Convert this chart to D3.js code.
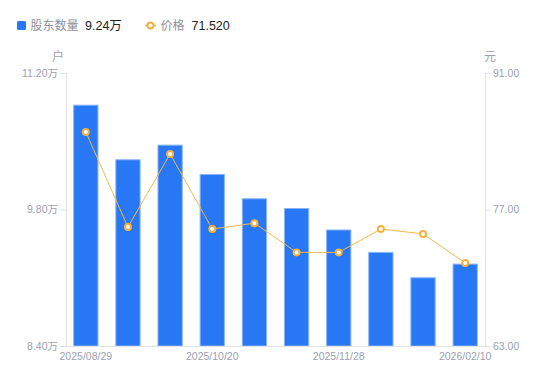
<!DOCTYPE html>
<html><head><meta charset="utf-8">
<script src="https://cdn.jsdelivr.net/npm/d3@7/dist/d3.min.js"></script>
<style>body{margin:0;background:#fff;}svg{display:block;font-family:"Liberation Sans","Noto Sans CJK SC",sans-serif;}</style>
</head><body>
<svg id="c" width="550" height="381"></svg>
<script>
const dates = ["2025/08/29","2025/09/15","2025/09/30","2025/10/20","2025/10/31","2025/11/14","2025/11/28","2025/12/19","2026/01/20","2026/02/10"];
const holders = [10.87, 10.31, 10.46, 10.16, 9.91, 9.81, 9.59, 9.36, 9.10, 9.24];
const prices = [84.95, 75.2, 82.7, 75.0, 75.6, 72.6, 72.6, 75.0, 74.5, 71.52];
const leftTicks = [8.40, 9.80, 11.20];
const rightTicks = [63.00, 77.00, 91.00];
const xLabelIdx = [0, 3, 6, 9];

const svg = d3.select("#c");
const L = 66, R = 485, T = 73, B = 346;
const x = d3.scaleBand().domain(dates).range([L, R]).paddingInner(0.4).paddingOuter(0.17);
const yL = d3.scaleLinear().domain([8.40, 11.20]).range([B, T]);
const yR = d3.scaleLinear().domain([63, 91]).range([B, T]);
const gray = "#9c9fb0", axisC = "#e3e3e6";
const cjk = "'Noto Sans CJK SC', sans-serif";

// bars
svg.append("g").selectAll("rect").data(holders).join("rect")
  .attr("x", (d,i)=>x(dates[i])+0.5).attr("width", x.bandwidth()-1)
  .attr("y", d=>yL(d)).attr("height", d=>B-yL(d))
  .attr("fill", "#2878f5").attr("stroke", "#8ab5f8").attr("stroke-width", 1);

// axes
const gl = svg.append("g").attr("transform", `translate(${L},0)`)
  .call(d3.axisLeft(yL).tickValues(leftTicks).tickSize(6).tickPadding(2).tickFormat(d=>d3.format(".2f")(d)+"万"));
const gr = svg.append("g").attr("transform", `translate(${R},0)`)
  .call(d3.axisRight(yR).tickValues(rightTicks).tickSize(6).tickPadding(2).tickFormat(d3.format(".2f")));
const gb = svg.append("g").attr("transform", `translate(0,${B})`)
  .call(d3.axisBottom(x).tickValues(xLabelIdx.map(i=>dates[i])).tickSize(0).tickPadding(7));
[gl, gr, gb].forEach(g=>{
  g.selectAll("path.domain").attr("stroke", axisC);
  g.selectAll(".tick line").attr("stroke", axisC);
  g.selectAll("text").attr("fill", gray).attr("font-size", 10.5).attr("font-family", "'Liberation Sans', 'Noto Sans CJK SC', sans-serif");
});
gb.select("path.domain").attr("d", `M${L},0.5H${R}`);

// line
const cx = i => x(dates[i]) + x.bandwidth()/2;
svg.append("path").datum(prices)
  .attr("d", d3.line().x((d,i)=>cx(i)).y(d=>yR(d)))
  .attr("fill", "none").attr("stroke", "#f7b84b").attr("stroke-width", 1);
svg.append("g").selectAll("circle").data(prices).join("circle")
  .attr("cx", (d,i)=>cx(i)).attr("cy", d=>yR(d)).attr("r", 3)
  .attr("fill", "#fff").attr("stroke", "#f7b03c").attr("stroke-width", 2);

// units
svg.append("text").attr("x", 58).attr("y", 61).attr("text-anchor", "middle").attr("font-family", cjk)
  .attr("fill", gray).attr("font-size", 12).text("户");
svg.append("text").attr("x", 490).attr("y", 61).attr("text-anchor", "middle").attr("font-family", cjk)
  .attr("fill", gray).attr("font-size", 12).text("元");

// legend
const lg = svg.append("g");
lg.append("rect").attr("x", 17).attr("y", 21).attr("width", 9).attr("height", 9).attr("rx", 1.5).attr("fill", "#2878f5");
lg.append("text").attr("x", 30.5).attr("y", 29.5).attr("fill", "#8d909c").attr("font-size", 12).attr("font-family", cjk).text("股东数量");
lg.append("text").attr("x", 85).attr("y", 29.5).attr("fill", "#222").attr("font-size", 12.5).text(d3.format(".2f")(holders[holders.length-1])+"万");
lg.append("line").attr("x1", 145).attr("x2", 156).attr("y1", 25.5).attr("y2", 25.5).attr("stroke", "#f7b03c").attr("stroke-width", 1.5);
lg.append("circle").attr("cx", 150.5).attr("cy", 25.5).attr("r", 3).attr("fill", "#fff").attr("stroke", "#f7b03c").attr("stroke-width", 2);
lg.append("text").attr("x", 160.5).attr("y", 29.5).attr("fill", "#8d909c").attr("font-size", 12).attr("font-family", cjk).text("价格");
lg.append("text").attr("x", 191.5).attr("y", 29.5).attr("fill", "#222").attr("font-size", 12.5).text(d3.format(".3f")(prices[prices.length-1]));
</script>
</body></html>
